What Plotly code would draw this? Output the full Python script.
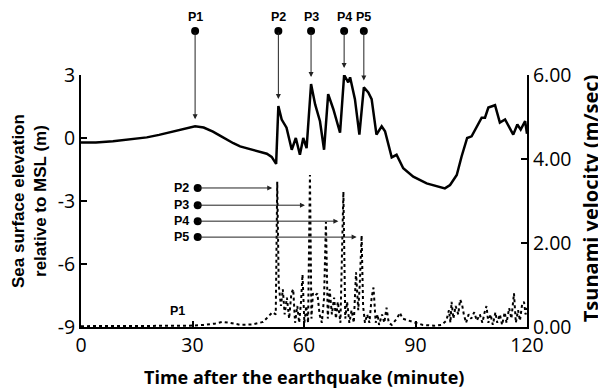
import plotly.graph_objects as go

# Sea surface elevation (m) vs time (minute)
elev_t = [0, 4, 8.6, 13, 17.7, 21, 24.8, 28, 30.7, 33, 35.5, 37.5, 39.2, 41, 42.8, 45.5, 48.2, 50, 51.3,
          52.5, 53.1, 54, 55.3, 56.7, 57.8, 58.9, 59.8, 60.7, 61.9, 63, 64.3, 65.4, 66.5, 67.9, 69.7,
          70.8, 71.9, 72.4, 73.7, 74.9, 76.1, 77.3, 78.2, 79.5, 80.9, 81.8, 83.6, 84.9, 86.7, 89.4, 93,
          97.9, 99.3, 101.1, 102.4, 103.9, 105.1, 107.8, 108.7, 109.6, 111.4, 112.7, 114.1, 116.3, 117.4,
          118.3, 119.5, 120]
elev_h = [-0.22, -0.21, -0.16, -0.08, 0.03, 0.15, 0.3, 0.45, 0.56, 0.5, 0.3, 0.1, -0.08, -0.25, -0.4,
          -0.52, -0.64, -0.75, -0.9, -1.23, 1.52, 0.88, 0.49, -0.56, 0.0, -0.8, 0.0, -0.48, 2.57, 1.6,
          0.8, -0.56, 2.09, 1.37, 0.25, 3.0, 2.65, 2.89, 1.85, 0.16, 2.41, 2.17, 1.85, 0.16, 0.56, 0.32,
          -0.92, -0.8, -1.44, -1.84, -2.16, -2.4, -2.24, -1.76, -0.88, 0.0, 0.08, 0.97, 0.97, 1.45, 1.56,
          0.73, 0.88, 0.16, 0.64, 0.4, 0.8, 0.2]

# Tsunami velocity (m/sec) vs time (minute)
vel_t = [0, 10, 20, 29, 33, 36, 38, 40, 43, 46, 49, 50.5, 51.5, 52.4, 52.8, 53.2, 53.8, 54.3, 54.8, 55.4,
         56, 56.6, 57.1, 57.6, 58.2, 58.7, 59.2, 59.6, 60.1, 60.6, 61.1, 61.6, 62.0, 62.4, 63.0, 63.6,
         64.2, 64.8, 65.4, 65.9, 66.4, 66.9, 67.5, 68.1, 68.6, 69.1, 69.8, 70.6, 71.1, 71.6, 72.2, 72.8,
         73.4, 74.0, 74.6, 75.0, 75.5, 75.9, 76.4, 77.0, 77.6, 78.2, 78.7, 79.3, 79.8, 80.2, 81.0, 81.6,
         82.2, 82.8, 83.6, 85.0, 85.8, 86.5, 88, 90, 92, 95, 97, 98.3, 99, 99.4, 99.7, 100.2, 100.8,
         101.5, 102.0, 102.5, 103.0, 103.6, 104.3, 105, 105.8, 106.5, 107.3, 108, 108.6, 109.1, 109.6,
         110.2, 110.8, 111.5, 112, 112.7, 113.3, 114, 114.5, 115.2, 115.8, 116.5, 117, 117.6, 118.1,
         118.7, 119.2, 119.6, 120]
vel_v = [0.02, 0.02, 0.03, 0.03, 0.05, 0.08, 0.12, 0.1, 0.05, 0.06, 0.12, 0.25, 0.35, 0.3, 3.46, 1.0,
         0.5, 0.9, 0.3, 0.7, 0.2, 0.8, 0.9, 0.1, 0.5, 0.1, 0.6, 1.25, 0.1, 0.5, 0.1, 3.62, 0.2, 0.8,
         0.75, 0.8, 0.3, 0.1, 0.7, 2.5, 0.2, 0.9, 0.3, 0.7, 0.2, 0.6, 0.1, 3.22, 0.2, 0.6, 0.1, 0.4,
         0.1, 1.3, 0.4, 1.0, 2.18, 0.5, 0.1, 0.3, 0.1, 0.7, 0.94, 0.1, 0.3, 0.05, 0.3, 0.1, 0.46, 0.1,
         0.05, 0.2, 0.34, 0.2, 0.15, 0.1, 0.05, 0.03, 0.05, 0.15, 0.4, 0.1, 0.6, 0.2, 0.5, 0.3, 0.65,
         0.55, 0.3, 0.1, 0.3, 0.2, 0.35, 0.15, 0.3, 0.1, 0.35, 0.5, 0.1, 0.3, 0.05, 0.35, 0.1, 0.3,
         0.05, 0.35, 0.1, 0.45, 0.2, 0.8, 0.1, 0.4, 0.15, 0.55, 0.6, 0.3, 0.45]

# Points of interest on the elevation curve (top pointers)
peak_labels = ["P1", "P2", "P3", "P4", "P5"]
peak_t = [30.7, 53.1, 61.9, 70.8, 76.1]
peak_h = [0.56, 1.52, 2.57, 3.0, 2.41]

# Velocity spikes pointed at from the left
spike_labels = ["P2", "P3", "P4", "P5"]
spike_t = [52.8, 61.6, 70.6, 75.5]
spike_row_v = [3.31, 2.90, 2.52, 2.14]

x_ticks = [0, 30, 60, 90, 120]
y_left_ticks = [3, 0, -3, -6, -9]
y_right_ticks = [0, 2, 4, 6]

TICKFONT = dict(family="Open Sans", size=19.5, color="black")
PFONT = dict(family="Liberation Sans, Arial", size=12.5, color="black")

fig = go.Figure()
fig.add_trace(go.Scatter(x=vel_t, y=vel_v, yaxis="y2", mode="lines",
                         line=dict(color="black", width=2, dash="dot"), showlegend=False))
fig.add_trace(go.Scatter(x=elev_t, y=elev_h, mode="lines",
                         line=dict(color="black", width=2.5), showlegend=False))

top_tail = 5.1          # data-y of the circles above the plot
top_tail_paper = 1.175
top_label_paper = 1.232

anns = []
shapes = []
for lab, t, h in zip(peak_labels, peak_t, peak_h):
    anns.append(dict(x=t, y=h, xref="x", yref="y", ax=t, ay=top_tail, axref="x", ayref="y",
                     showarrow=True, arrowhead=2, arrowsize=1, arrowwidth=1, arrowcolor="#222",
                     standoff=7, text=""))
    anns.append(dict(x=t, y=top_label_paper, xref="x", yref="paper", text="<b>" + lab + "</b>",
                     showarrow=False, yanchor="middle", xanchor="center", font=PFONT))
    shapes.append(dict(type="circle", xref="x", yref="paper", xsizemode="pixel", ysizemode="pixel",
                       xanchor=t, yanchor=top_tail_paper, x0=-4, x1=4, y0=-4, y1=4,
                       fillcolor="black", line=dict(color="black", width=0)))

left_tail_t = 31.4
fig.add_trace(go.Scatter(x=[left_tail_t] * len(spike_t), y=spike_row_v, yaxis="y2", mode="markers",
                         cliponaxis=False, marker=dict(color="black", size=8), showlegend=False))
for lab, t, v in zip(spike_labels, spike_t, spike_row_v):
    anns.append(dict(x=t, y=v, xref="x", yref="y2", ax=left_tail_t, ay=v, axref="x", ayref="y2",
                     showarrow=True, arrowhead=2, arrowsize=1, arrowwidth=1, arrowcolor="#222",
                     standoff=5, text=""))
    anns.append(dict(x=29.6, y=v, xref="x", yref="y2", text="<b>" + lab + "</b>", showarrow=False,
                     xanchor="right", font=PFONT))

anns.append(dict(x=26.0, y=0.38, xref="x", yref="y2", text="<b>P1</b>", showarrow=False, font=PFONT))

anns.append(dict(x=0.5, y=-0.198, xref="paper", yref="paper", showarrow=False,
                 xanchor="center", yanchor="middle",
                 text="<b>Time after the earthquake (minute)</b>",
                 font=dict(family="Open Sans", size=18, color="black")))
anns.append(dict(x=-0.1166, y=0.5, xref="paper", yref="paper", showarrow=False, textangle=-90,
                 xanchor="center", yanchor="middle",
                 text="<b>Sea surface elevation<br>relative to MSL (m)</b>",
                 font=dict(family="Liberation Sans, Arial", size=17, color="black")))
anns.append(dict(x=1.143, y=0.51, xref="paper", yref="paper", showarrow=False, textangle=-90,
                 xanchor="center", yanchor="middle",
                 text="<b>Tsunami velocity (m/sec)</b>",
                 font=dict(family="Open Sans", size=20, color="black")))

fig.update_layout(
    width=598, height=380, margin=dict(l=73, r=79, t=67, b=61),
    paper_bgcolor="white", plot_bgcolor="white",
    annotations=anns, shapes=shapes,
    xaxis=dict(range=[0, 120], tickvals=x_ticks, ticktext=[str(v) for v in x_ticks],
               showline=True, linecolor="black", linewidth=2, ticks="inside", ticklen=6,
               tickcolor="black", tickwidth=1.5, showgrid=False, zeroline=False, tickfont=TICKFONT),
    yaxis=dict(range=[-9, 3], tickvals=y_left_ticks, ticktext=[str(v) for v in y_left_ticks],
               showline=True, linecolor="black", linewidth=2, ticks="inside", ticklen=6,
               tickcolor="black", tickwidth=1.5, showgrid=False, zeroline=False, tickfont=TICKFONT),
    yaxis2=dict(range=[0, 6], overlaying="y", side="right", tickvals=y_right_ticks,
                ticktext=["%.2f" % v for v in y_right_ticks],
                showline=True, linecolor="black", linewidth=2, ticks="inside", ticklen=6,
                tickcolor="black", tickwidth=1.5, showgrid=False, zeroline=False, tickfont=TICKFONT),
)

fig.write_html("out.html")
